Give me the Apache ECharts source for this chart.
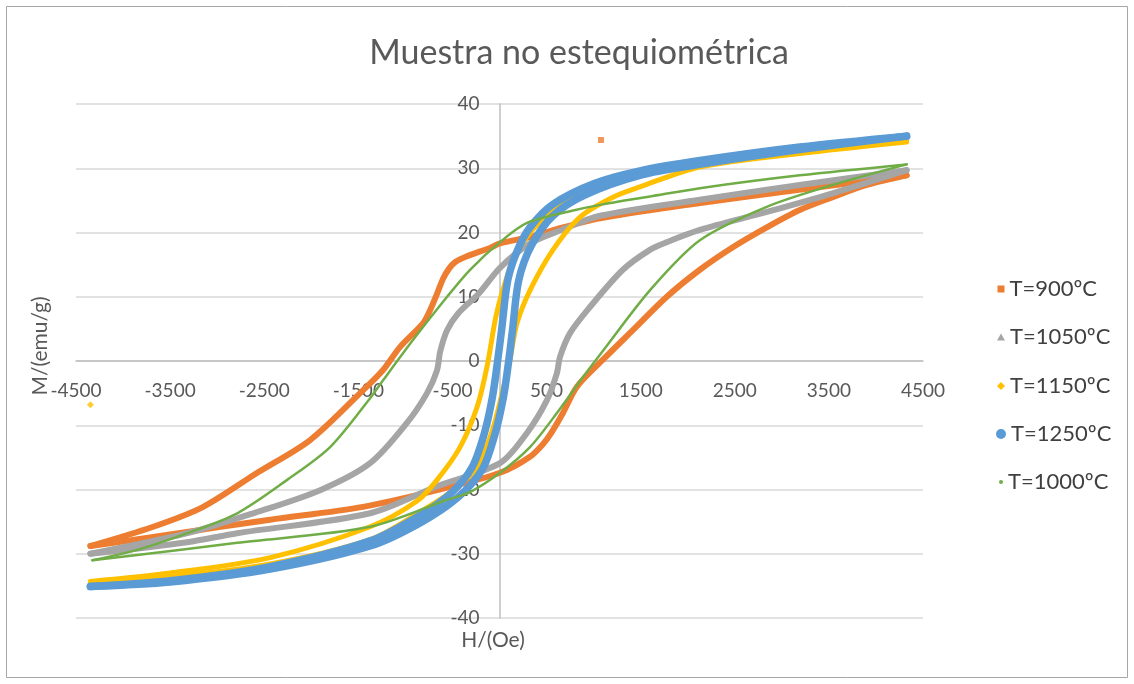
<!DOCTYPE html>
<html><head><meta charset="utf-8">
<script src="https://cdn.jsdelivr.net/npm/echarts@6/dist/echarts.min.js"></script>
<style>html,body{margin:0;padding:0;background:#fff}#c{width:1134px;height:684px}</style>
</head><body><div id="c"></div>
<script>
const chartTitle = 'Muestra no estequiométrica';
const xName = 'H/(Oe)';
const yName = 'M/(emu/g)';
const seriesNames = ['T=900ºC', 'T=1050ºC', 'T=1150ºC', 'T=1250ºC', 'T=1000ºC'];
const seriesColors = ['#ED7D31', '#A5A5A5', '#FFC000', '#5B9BD5', '#70AD47'];

// Each loop: descending-field branch (upper) and ascending-field branch (lower), listed by increasing H
const t900Upper = [[-4347,-28.8],[-3679,-25.8],[-3148,-22.7],[-2574,-17.4],[-2012,-12.3],[-1481,-5.0],[-1237,-1.4],[-1056,2.2],[-811,5.9],[-738,7.9],[-663,10.5],[-600,12.8],[-540,14.3],[-470,15.4],[-345,16.3],[-101,17.6],[5,18.3],[324,19.3],[600,20.5],[1067,22.2],[2000,24.3],[3000,26.3],[3901,28.0],[4326,28.9]];
const t900Lower = [[-4347,-28.8],[-3679,-27.4],[-3000,-25.9],[-2437,-24.7],[-1449,-22.7],[-663,-20.1],[5,-17.4],[324,-14.9],[470,-12.8],[550,-11.2],[674,-8.1],[823,-4.0],[1099,0.2],[1417,4.8],[1778,10.0],[2129,14.2],[2479,17.7],[2840,20.8],[3190,23.5],[3540,25.5],[3901,27.4],[4326,28.9]];
const t900Stray = [[1078,34.4]];

const t1050Upper = [[-4347,-30.0],[-3318,-26.8],[-2617,-23.7],[-1906,-20.1],[-1375,-15.9],[-982,-9.6],[-770,-5.0],[-665,-1.5],[-630,1.5],[-557,4.8],[-440,7.4],[-220,10.5],[5,14.5],[324,18.3],[642,20.3],[1067,22.6],[2129,25.1],[3190,27.4],[4326,29.7]];
const t1050Lower = [[-4347,-30.0],[-3318,-28.2],[-2787,-26.8],[-1375,-23.7],[-663,-19.5],[5,-15.9],[292,-11.2],[504,-6.1],[610,-1.9],[642,0.6],[748,4.3],[961,8.4],[1311,14.2],[1598,17.3],[1778,18.5],[2129,20.4],[2840,23.2],[3540,26.1],[4326,29.7]];

const t1150Upper = [[-4347,-34.3],[-3499,-33.0],[-2437,-30.6],[-1375,-25.8],[-876,-21.8],[-663,-18.5],[-419,-13.4],[-239,-7.2],[-133,-0.9],[-40,6.8],[35,11.0],[160,16.2],[360,20.6],[600,23.7],[960,26.9],[1450,29.4],[2129,31.0],[3190,32.9],[4326,34.4]];
const t1150Lower = [[-4347,-34.4],[-3499,-33.6],[-2437,-31.6],[-1375,-27.8],[-844,-23.5],[-500,-20.2],[-239,-16.5],[-80,-11.0],[20,-5.5],[111,0.2],[186,5.9],[324,11.0],[568,17.3],[855,22.4],[1205,25.5],[1492,27.1],[2129,30.2],[3190,32.3],[4326,34.1]];
const t1150Stray = [[-4347,-6.8]];

const t1250Upper = [[-4347,-35.1],[-3499,-34.2],[-2437,-32.0],[-1375,-28.0],[-844,-24.0],[-510,-20.5],[-290,-16.5],[-160,-11.2],[-75,-5.6],[-22,-0.2],[22,4.8],[88,12.6],[190,17.2],[324,20.8],[568,24.4],[1000,27.6],[1492,29.6],[2129,31.2],[3190,33.3],[4326,35.0]];
const t1250Lower = [[-4347,-35.1],[-3499,-34.4],[-2437,-32.4],[-1375,-28.8],[-844,-25.2],[-440,-21.2],[-180,-16.8],[-45,-11.2],[42,-5.6],[96,-0.2],[138,4.8],[205,12.6],[340,18.0],[568,22.6],[900,25.8],[1492,28.9],[2129,30.6],[3190,32.9],[4326,35.0]];

const t1000Upper = [[-4326,-31.0],[-3849,-29.4],[-3318,-26.8],[-2787,-23.7],[-2256,-18.5],[-1800,-13.4],[-1375,-5.8],[-1237,-3.0],[-918,3.3],[-557,10.0],[-313,14.2],[5,18.5],[292,21.5],[748,23.3],[1067,24.3],[1598,25.6],[2129,26.9],[3190,28.9],[4326,30.6]];
const t1000Lower = [[-4326,-31.0],[-3849,-30.2],[-2787,-28.3],[-1375,-25.8],[-557,-21.6],[-313,-20.4],[5,-17.4],[324,-13.4],[610,-8.1],[887,-2.5],[1100,1.6],[1598,11.0],[2129,18.8],[2840,24.0],[3540,27.4],[4326,30.6]];

const xMin = -4500, xMax = 4500, xStep = 1000;
const yMin = -40, yMax = 40, yStep = 10;

const FONT = 'Lato';
const G = {left: 76, right: 211, top: 104, bottom: 66};
const W = 1134, H = 684;
const plotW = W - G.left - G.right, plotH = H - G.top - G.bottom;
// shift the axes so that they cross at (0, 0), as in the original
const xAxisOffset = -plotH * (0 - yMin) / (yMax - yMin);
const yAxisOffset = -plotW * (0 - xMin) / (xMax - xMin);

const chart = echarts.init(document.getElementById('c'), null, {renderer: 'canvas'});

function loop(name, color, width, data) {
  return {
    name: name, type: 'line', data: data, smooth: 0.3,
    showSymbol: false, symbol: 'none', silent: true,
    lineStyle: {color: color, width: width, cap: 'round', join: 'round'},
    itemStyle: {color: color}
  };
}
function stray(name, color, symbol, size, data) {
  return {name: name, type: 'scatter', data: data, symbol: symbol, symbolSize: size,
    itemStyle: {color: color}, silent: true};
}

const legendIcons = [
  {icon: 'rect', w: 7, h: 7},
  {icon: 'triangle', w: 8, h: 7},
  {icon: 'diamond', w: 8, h: 8},
  {icon: 'circle', w: 10, h: 10},
  {icon: 'circle', w: 4, h: 4}
];
const legendCenters = [285, 333, 382, 430, 478];
const legends = seriesNames.map((n, i) => ({
  orient: 'vertical',
  left: 1000 - legendIcons[i].w / 2 - 4,
  top: legendCenters[i] - 12,
  itemWidth: legendIcons[i].w, itemHeight: legendIcons[i].h,
  selectedMode: false,
  textStyle: {fontFamily: FONT, fontSize: 22, color: '#404040'},
  data: [{name: n, icon: legendIcons[i].icon, itemStyle: {color: seriesColors[i]}}]
}));

const option = {
  animation: false,
  backgroundColor: '#ffffff',
  title: {
    text: chartTitle, left: 574, top: 31, textAlign: 'center',
    textStyle: {fontFamily: FONT, fontSize: 34, fontWeight: 'normal', color: '#595959'}
  },
  legend: legends,
  grid: {left: G.left, right: G.right, top: G.top, bottom: G.bottom, containLabel: false},
  xAxis: {
    type: 'value', min: xMin, max: xMax, interval: xStep,
    position: 'bottom', offset: xAxisOffset,
    axisLine: {onZero: false, lineStyle: {color: '#bfbfbf', width: 1.5}},
    axisTick: {show: false},
    splitLine: {show: false},
    axisLabel: {fontFamily: FONT, fontSize: 19, color: '#595959', margin: 20,
      showMinLabel: true, showMaxLabel: true, formatter: v => String(v)}
  },
  yAxis: {
    type: 'value', min: yMin, max: yMax, interval: yStep,
    position: 'left', offset: yAxisOffset,
    axisLine: {show: true, onZero: false, lineStyle: {color: '#bfbfbf', width: 1.5}},
    axisTick: {show: false},
    splitLine: {show: true, lineStyle: {color: '#d9d9d9', width: 1.5}},
    axisLabel: {fontFamily: FONT, fontSize: 19, color: '#595959', margin: 20, formatter: v => String(v)}
  },
  graphic: [
    {type: 'rect', shape: {x: 6.5, y: 6.5, width: 1121, height: 671}, style: {fill: 'none', stroke: '#a6a6a6', lineWidth: 1}, silent: true, z: -10},
    {type: 'text', x: 493, y: 640, style: {text: xName, font: '21px ' + FONT, fill: '#595959', textAlign: 'center', textVerticalAlign: 'middle'}},
    {type: 'text', x: 40, y: 346, rotation: Math.PI / 2, style: {text: yName, font: '21px ' + FONT, fill: '#595959', textAlign: 'center', textVerticalAlign: 'middle'}}
  ],
  series: [
    loop(seriesNames[0], seriesColors[0], 6, t900Upper),
    loop(seriesNames[0], seriesColors[0], 6, t900Lower),
    stray(seriesNames[0], seriesColors[0], 'rect', 6, t900Stray),
    loop(seriesNames[1], seriesColors[1], 6, t1050Upper),
    loop(seriesNames[1], seriesColors[1], 6, t1050Lower),
    loop(seriesNames[2], seriesColors[2], 5, t1150Upper),
    loop(seriesNames[2], seriesColors[2], 5, t1150Lower),
    stray(seriesNames[2], seriesColors[2], 'diamond', 7, t1150Stray),
    loop(seriesNames[3], seriesColors[3], 7.5, t1250Upper),
    loop(seriesNames[3], seriesColors[3], 7.5, t1250Lower),
    loop(seriesNames[4], seriesColors[4], 2.5, t1000Upper),
    loop(seriesNames[4], seriesColors[4], 2.5, t1000Lower)
  ]
};
chart.setOption(option);
</script></body></html>
